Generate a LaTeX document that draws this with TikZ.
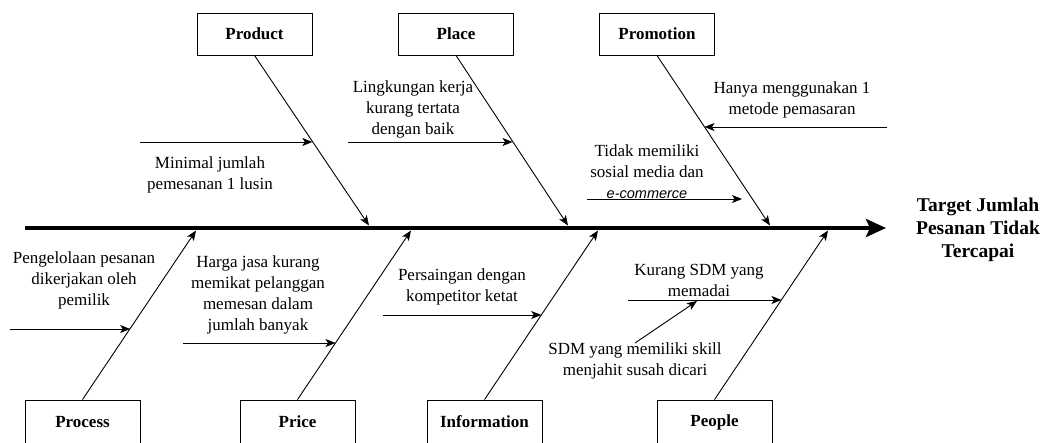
\documentclass[tikz,border=0pt]{standalone}
\usepackage{fontspec}
\setmainfont{Liberation Serif}
\newfontfamily\sansfam{Liberation Sans}
\usetikzlibrary{arrows.meta,calc}
\begin{document}
\begin{tikzpicture}[x=1pt,y=-1pt,
  catbox/.style={draw,line width=0.9pt,minimum width=115pt,inner sep=0pt,font=\fontsize{17}{19}\selectfont\bfseries},
  bone/.style={line width=0.9pt,-{Stealth[length=10pt,width=8pt,inset=2.5pt]}},
  cause/.style={line width=0.9pt,-{Stealth[length=10pt,width=8pt,inset=2.5pt]}},
  lbl/.style={align=center,inner sep=0pt,font=\fontsize{17}{21}\selectfont},
  spine/.style={line width=4.5pt,-{Stealth[length=20pt,width=18pt,inset=4pt]}}
]
\useasboundingbox (0,0) rectangle (1048,443);
% spine
\coordinate (sStart) at (25,228);
\node[align=center,inner sep=0pt,font=\fontsize{19.5}{23}\selectfont\bfseries] (target) at (978,230) {Target Jumlah\\Pesanan Tidak\\Tercapai};
\coordinate (sEnd) at (886,228);
\draw[spine] (sStart) -- (sEnd);
% top boxes
\node[catbox,minimum height=42pt] (prod) at (254.5,34) {Product};
\node[catbox,minimum height=42pt] (place) at (456,34) {Place};
\node[catbox,minimum height=42pt] (promo) at (657,34) {Promotion};
% bottom boxes
\node[catbox,minimum height=44pt] (proc) at (82.5,422) {Process};
\node[catbox,minimum height=44pt] (price) at (297.5,422) {Price};
\node[catbox,minimum height=44pt] (info) at (484.5,422) {Information};
\node[catbox,minimum height=44pt] (people) at (714.5,422) {People};
% bone ends
\coordinate (prodE) at (369,225.5);
\coordinate (placeE) at (568,225.5);
\coordinate (promoE) at (770,225.5);
\coordinate (procE) at (196,230.5);
\coordinate (priceE) at (411,230.5);
\coordinate (infoE) at (598,230.5);
\coordinate (peopleE) at (828,230.5);
\draw[bone] (prod.south) -- (prodE);
\draw[bone] (place.south) -- (placeE);
\draw[bone] (promo.south) -- (promoE);
\draw[bone] (proc.north) -- (procE);
\draw[bone] (price.north) -- (priceE);
\draw[bone] (info.north) -- (infoE);
\draw[bone] (people.north) -- (peopleE);
% cause arrows
\coordinate (c1s) at (140,142);
\coordinate (c1e) at ($(prod.south)!0.505!(prodE)$);
\draw[cause] (c1s) -- (c1e |- c1s);
\node[lbl] (t1) at (210,175) {Minimal jumlah\\pemesanan 1 lusin};

\coordinate (c2s) at (348,142);
\coordinate (c2e) at ($(place.south)!0.505!(placeE)$);
\draw[cause] (c2s) -- (c2e |- c2s);
\node[lbl] (t2) at (413,109) {Lingkungan kerja\\kurang tertata\\dengan baik};

\coordinate (c3s) at (887,127);
\coordinate (c3e) at ($(promo.south)!0.42!(promoE)$);
\draw[cause] (c3s) -- (c3e |- c3s);
\node[lbl] (t3) at (792,100) {Hanya menggunakan 1\\metode pemasaran};

\coordinate (c4s) at (587,199);
\coordinate (c4e) at (742,199);
\draw[cause] (c4s) -- (c4e);
\node[lbl] (t4) at (647,172) {Tidak memiliki\\sosial media dan\\{\sansfam\itshape\fontsize{14.5}{21}\selectfont e-commerce}};

\coordinate (c5s) at (10,329);
\coordinate (c5e) at ($(proc.north)!0.42!(procE)$);
\draw[cause] (c5s) -- (c5e |- c5s);
\node[lbl] (t5) at (84,280) {Pengelolaan pesanan\\dikerjakan oleh\\pemilik};

\coordinate (c6s) at (183,343);
\coordinate (c6e) at ($(price.north)!0.335!(priceE)$);
\draw[cause] (c6s) -- (c6e |- c6s);
\node[lbl] (t6) at (258,295) {Harga jasa kurang\\memikat pelanggan\\memesan dalam\\jumlah banyak};

\coordinate (c7s) at (383,315);
\coordinate (c7e) at ($(info.north)!0.5!(infoE)$);
\draw[cause] (c7s) -- (c7e |- c7s);
\node[lbl] (t7) at (462,287) {Persaingan dengan\\kompetitor ketat};

\coordinate (c8s) at (628,300);
\coordinate (c8e) at ($(people.north)!0.59!(peopleE)$);
\draw[cause] (c8s) -- (c8e |- c8s);
\node[lbl] (t8) at (699,280) {Kurang SDM yang\\memadai};

\coordinate (c9s) at (635,343);
\coordinate (c9e) at (697,301);
\draw[cause] (c9s) -- (c9e);
\node[lbl] (t9) at (635,361) {SDM yang memiliki skill\\menjahit susah dicari};
\end{tikzpicture}
\end{document}
